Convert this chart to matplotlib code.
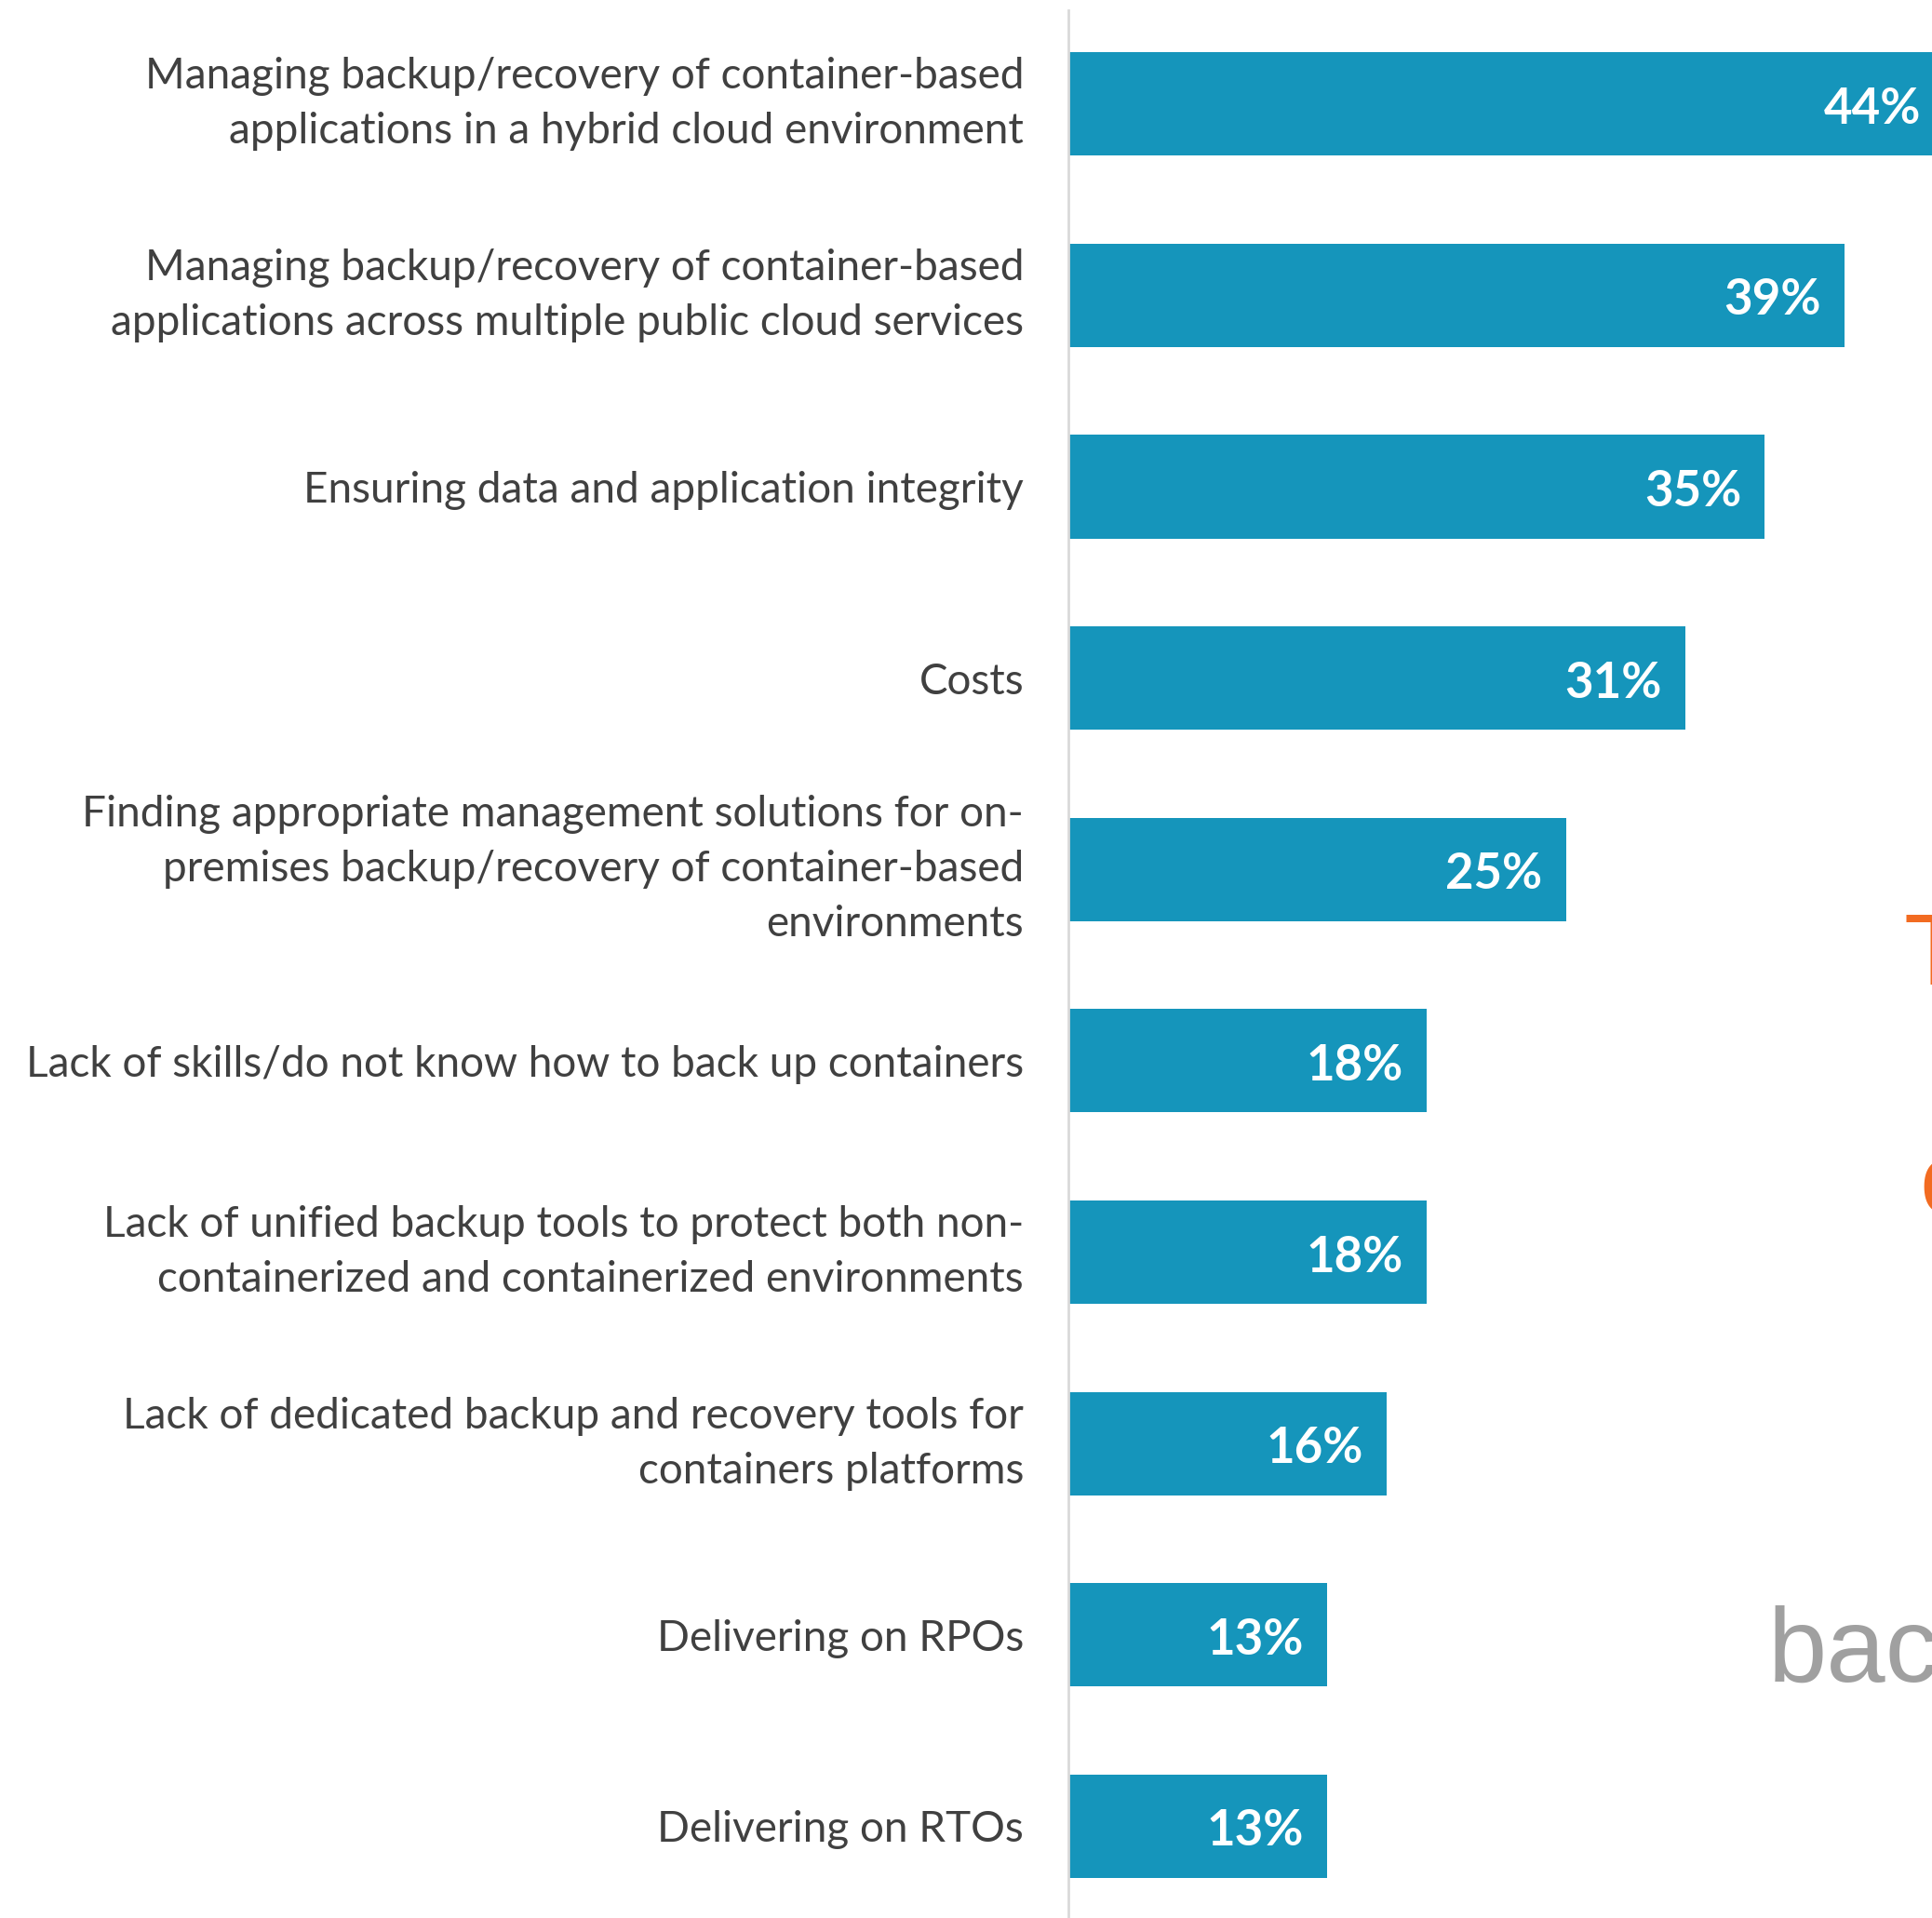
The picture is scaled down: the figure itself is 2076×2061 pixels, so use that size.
import numpy as np
import matplotlib.pyplot as plt

# challenges, top to bottom
categories = [
    "Managing backup/recovery of container-based\napplications in a hybrid cloud environment",
    "Managing backup/recovery of container-based\napplications across multiple public cloud services",
    "Ensuring data and application integrity",
    "Costs",
    "Finding appropriate management solutions for on-\npremises backup/recovery of container-based\nenvironments",
    "Lack of skills/do not know how to back up containers",
    "Lack of unified backup tools to protect both non-\ncontainerized and containerized environments",
    "Lack of dedicated backup and recovery tools for\ncontainers platforms",
    "Delivering on RPOs",
    "Delivering on RTOs",
]
values = [44, 39, 35, 31, 25, 18, 18, 16, 13, 13]

bar_color = "#1595bb"
text_color = "#404040"

fig = plt.figure(figsize=(20.76, 20.61), dpi=100)
ax = fig.add_axes([1148 / 2076, 0, 1 - 1148 / 2076, 1 - 11 / 2061])

y = np.arange(len(values))
ax.barh(y, values, height=0.54, color=bar_color)

# value labels (the 44% bar runs past the right edge, so don't clip)
for yi, v in zip(y, values):
    ax.annotate(f"{v}%", (v, yi), xytext=(-18, -4), textcoords="offset points",
                ha="right", va="center", color="white", fontsize=38,
                fontweight="bold", family="Lato", annotation_clip=False)

ax.set_xlim(0, 43.4)
ax.set_ylim(9.48, -0.49)
ax.set_yticks(y)
ax.set_yticklabels(categories, fontsize=33, color=text_color, family="Lato")
for lbl in ax.get_yticklabels():
    lbl.set_linespacing(1.5)
    if "\n" in lbl.get_text():
        lbl.set_va("center")
ax.tick_params(axis="y", length=0, pad=34.5)
ax.set_xticks([])
for side in ["top", "right", "bottom"]:
    ax.spines[side].set_visible(False)
ax.spines["left"].set_color("#d9d9d9")
ax.spines["left"].set_linewidth(2)

# pieces of the neighbouring slide text, cut off at the right edge
fig.text(2045 / 2076, 1 - 1058 / 2061, "Top", fontsize=79, color="#f26b21",
         family="Liberation Sans", va="baseline")
fig.text(2062 / 2076, 1 - 1304 / 2061, "challenges", fontsize=79, color="#f26b21",
         family="Liberation Sans", va="baseline")
fig.text(1900 / 2076, 1 - 1807 / 2061, "backup", fontsize=82, color="#a0a0a0",
         family="Liberation Sans", va="baseline")

fig.savefig("out.png", dpi=100)
